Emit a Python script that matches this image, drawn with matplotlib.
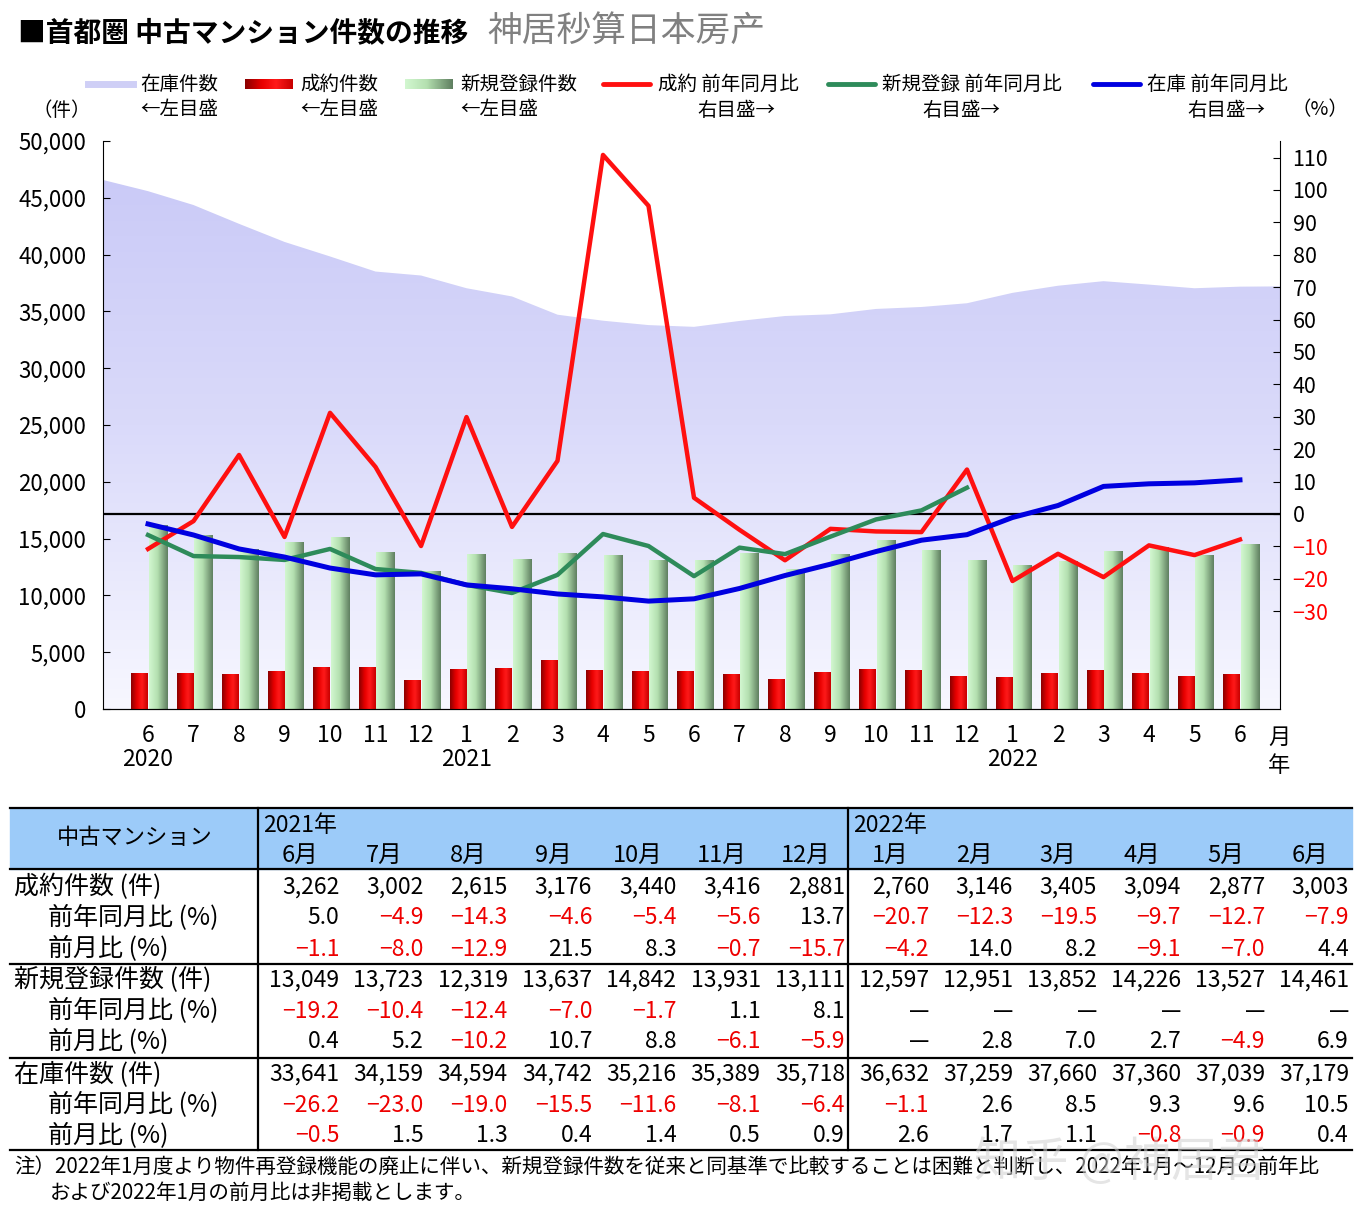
import numpy as np
import matplotlib
matplotlib.use('Agg')
import matplotlib.pyplot as plt
from matplotlib.colors import LinearSegmentedColormap
from matplotlib.lines import Line2D

plt.rcParams['font.family'] = ['Noto Sans CJK JP', 'DejaVu Sans']

# ---- data (2020/6 - 2022/6) ----
months = ['6', '7', '8', '9', '10', '11', '12', '1', '2', '3', '4', '5',
          '6', '7', '8', '9', '10', '11', '12', '1', '2', '3', '4', '5', '6']
years = {0: '2020', 7: '2021', 19: '2022'}

contracts = [3107, 3157, 3051, 3329, 3636, 3619, 2534, 3480, 3587, 4230, 3426, 3296,
             3262, 3002, 2615, 3176, 3440, 3416, 2881, 2760, 3146, 3405, 3094, 2877, 3003]
new_listings = [16150, 15316, 14063, 14664, 15099, 13780, 12129, 13560, 13200, 13730, 13550, 13030,
                13049, 13723, 12319, 13637, 14842, 13931, 13111, 12597, 12951, 13852, 14226, 13527, 14461]
stock = [45584, 44362, 42709, 41115, 39837, 38508, 38160, 37040, 36315, 34710, 34181, 33795,
         33641, 34159, 34594, 34742, 35216, 35389, 35718, 36632, 37259, 37660, 37360, 37039, 37179]
stock_left_edge = 46570   # area continues to the left spine
stock_right_edge = 37200  # and to the right spine

contract_yoy = [-10.8, -2.2, 18.2, -7.1, 31.2, 14.5, -9.9, 29.9, -4.0, 16.4, 110.8, 95.1,
                5.0, -4.9, -14.3, -4.6, -5.4, -5.6, 13.7, -20.7, -12.3, -19.5, -9.7, -12.7, -7.9]
new_yoy = [-6.5, -13.0, -13.3, -14.2, -10.8, -17.0, -18.2, -21.9, -24.4, -18.8, -6.2, -9.9,
           -19.2, -10.4, -12.4, -7.0, -1.7, 1.1, 8.1]
stock_yoy = [-3.1, -6.5, -10.8, -13.3, -16.7, -18.8, -18.5, -21.9, -23.1, -24.7, -25.6, -26.9,
             -26.2, -23.0, -19.0, -15.5, -11.6, -8.1, -6.4, -1.1, 2.6, 8.5, 9.3, 9.6, 10.5]

# table (2021/6 - 2022/6)
table_months = ['6月', '7月', '8月', '9月', '10月', '11月', '12月',
                '1月', '2月', '3月', '4月', '5月', '6月']
contract_mom = [-1.1, -8.0, -12.9, 21.5, 8.3, -0.7, -15.7, -4.2, 14.0, 8.2, -9.1, -7.0, 4.4]
new_mom = [0.4, 5.2, -10.2, 10.7, 8.8, -6.1, -5.9, None, 2.8, 7.0, 2.7, -4.9, 6.9]
stock_mom = [-0.5, 1.5, 1.3, 0.4, 1.4, 0.5, 0.9, 2.6, 1.7, 1.1, -0.8, -0.9, 0.4]
new_yoy_table = new_yoy[12:] + [None] * 6

W, H = 1368, 1212
fig = plt.figure(figsize=(W / 100, H / 100), dpi=100)

# ---- main chart ----
ax = fig.add_axes([103 / W, 1 - 709 / H, (1280 - 103) / W, (709 - 141) / H])
x = np.arange(len(months))
XL = (-0.99, 24.88)

# stock area with vertical gradient
xs = np.concatenate([[XL[0]], x, [XL[1]]])
ys = np.concatenate([[stock_left_edge], stock, [stock_right_edge]])
poly = ax.fill_between(xs, 0, ys, color='none', lw=0)
area_cmap = LinearSegmentedColormap.from_list('area', ['#f7f7ff', '#dadafa', '#c8c8f7'])
grad = np.linspace(0, 1, 256).reshape(-1, 1)
im = ax.imshow(grad, extent=[XL[0], XL[1], 0, 50000], origin='lower', aspect='auto',
               cmap=area_cmap, zorder=1)
im.set_clip_path(poly.get_paths()[0], transform=ax.transData)

# bars with horizontal gradients
red_cmap = LinearSegmentedColormap.from_list('red', [(0, '#8a0000'), (0.35, '#e80000'),
                                                     (0.65, '#ff1a1a'), (1, '#c80000')])
green_cmap = LinearSegmentedColormap.from_list('grn', [(0, '#d2f7d0'), (0.45, '#b4e0b0'),
                                                       (1, '#5f7f60')])
hgrad = np.linspace(0, 1, 64).reshape(1, -1)
for i in range(len(x)):
    ax.imshow(hgrad, extent=[x[i] - 0.37, x[i] - 0.0, 0, contracts[i]], aspect='auto',
              cmap=red_cmap, zorder=3, interpolation='bicubic')
    ax.imshow(hgrad, extent=[x[i] + 0.02, x[i] + 0.42, 0, new_listings[i]], aspect='auto',
              cmap=green_cmap, zorder=2, interpolation='bicubic')

ax.set_xlim(*XL)
ax.set_ylim(0, 50000)
ax.set_yticks(np.arange(0, 50001, 5000))
ax.set_yticklabels([f'{v:,}' for v in range(0, 50001, 5000)], fontsize=16)
ax.tick_params(axis='y', direction='in', length=5, pad=12)
ax.set_xticks(x)
ax.set_xticklabels([m + ('\n' + years[i] if i in years else '') for i, m in enumerate(months)],
                   fontsize=16.5, linespacing=1.05)
ax.tick_params(axis='x', length=0, pad=11)
ax.spines['top'].set_visible(False)
ax.spines['right'].set_visible(False)

ax2 = ax.twinx()
ax2.set_ylim(-60.2, 115.1)
ax2.set_xlim(*XL)
ax2.axhline(0, color='black', lw=1.6, zorder=1)
ax2.plot(x, contract_yoy, color='#ff1010', lw=3.2, zorder=3)
ax2.plot(x[:len(new_yoy)], new_yoy, color='#2e8b5a', lw=3.2, zorder=3)
ax2.plot(x, stock_yoy, color='#0000e0', lw=3.6, zorder=4)
rt = np.arange(-30, 111, 10)
ax2.set_yticks(rt)
ax2.set_yticklabels([f'{v}' if v >= 0 else f'−{-v}' for v in rt], fontsize=15.5)
for lab, v in zip(ax2.get_yticklabels(), rt):
    if v < 0:
        lab.set_color('#ff0000')
ax2.tick_params(axis='y', direction='in', length=5, pad=9)
ax2.spines['top'].set_visible(False)
ax2.spines['left'].set_visible(False)

# ---- overlay in pixel coords: title, legend, table, notes ----
ov = fig.add_axes([0, 0, 1, 1], zorder=5)
ov.set_xlim(0, W)
ov.set_ylim(H, 0)
ov.axis('off')

ov.text(18, 33, '■首都圏 中古マンション件数の推移', fontsize=20, fontweight='bold', va='center')
ov.text(487, 31, '神居秒算日本房产', fontsize=25, color='#808080', va='center')

ov.text(1268, 737, '月', fontsize=16, va='center', ha='left')
ov.text(1268, 765, '年', fontsize=16, va='center', ha='left')
ov.text(62, 110, '（件）', fontsize=14, va='center', ha='center')
ov.text(1320, 110, '（%）', fontsize=14, va='center', ha='center')

# legend
ly1, ly2 = 84, 110
ov.add_line(Line2D([88, 133], [ly1, ly1], color='#cfcff6', lw=5))
ov.imshow(hgrad, extent=[245, 293, ly1 + 5, ly1 - 5], aspect='auto', cmap=red_cmap)
ov.imshow(hgrad, extent=[405, 453, ly1 + 5, ly1 - 5], aspect='auto', cmap=green_cmap)
ov.add_line(Line2D([603, 650], [ly1, ly1], color='#ff1010', lw=3.5, solid_capstyle='round'))
ov.add_line(Line2D([828, 875], [ly1, ly1], color='#2e8b5a', lw=3.5, solid_capstyle='round'))
ov.add_line(Line2D([1093, 1140], [ly1, ly1], color='#0000e0', lw=3.5, solid_capstyle='round'))
legend_items = [(140, '在庫件数', 140, '←左目盛'),
                (300, '成約件数', 300, '←左目盛'),
                (460, '新規登録件数', 460, '←左目盛'),
                (658, '成約 前年同月比', 697, '右目盛→'),
                (882, '新規登録 前年同月比', 922, '右目盛→'),
                (1147, '在庫 前年同月比', 1187, '右目盛→')]
for x1, t1, x2, t2 in legend_items:
    ov.text(x1, ly1, t1, fontsize=14, va='center')
    ov.text(x2, ly2, t2, fontsize=14, va='center')
ov.set_xlim(0, W)
ov.set_ylim(H, 0)

# table
T_L, T_SPLIT1, T_SPLIT2, T_R = 10, 258, 848, 1352
col_w1 = (T_SPLIT2 - T_SPLIT1) / 7
col_w2 = (T_R - T_SPLIT2) / 6
col_right = [T_SPLIT1 + col_w1 * (i + 1) for i in range(7)] + \
            [T_SPLIT2 + col_w2 * (i + 1) for i in range(6)]
col_left = [T_SPLIT1 + col_w1 * i for i in range(7)] + [T_SPLIT2 + col_w2 * i for i in range(6)]

ov.fill_between([T_L, T_R], 808, 869, color='#9ccbf9', zorder=0)
ov.text(135, 838, '中古マンション', fontsize=16, ha='center', va='center')
ov.text(T_SPLIT1 + 5, 825, '2021年', fontsize=16.5, va='center')
ov.text(T_SPLIT2 + 5, 825, '2022年', fontsize=16.5, va='center')
for l, r, m in zip(col_left, col_right, table_months):
    ov.text((l + r) / 2, 855, m, fontsize=17, ha='center', va='center')


def fmt(v, kind):
    if v is None:
        return '—', 'black'
    if kind == 'int':
        return f'{v:,}', 'black'
    s = f'{abs(v):.1f}'
    return ('−' + s, '#ee0000') if v < 0 else (s, 'black')


rows = [('成約件数 (件)', 14, contracts[12:], 'int'),
        ('前年同月比 (%)', 48, contract_yoy[12:], 'pct'),
        ('前月比 (%)', 48, contract_mom, 'pct'),
        ('新規登録件数 (件)', 14, new_listings[12:], 'int'),
        ('前年同月比 (%)', 48, new_yoy_table, 'pct'),
        ('前月比 (%)', 48, new_mom, 'pct'),
        ('在庫件数 (件)', 14, stock[12:], 'int'),
        ('前年同月比 (%)', 48, stock_yoy[12:], 'pct'),
        ('前月比 (%)', 48, stock_mom, 'pct')]
row_y = [887, 918, 949, 980, 1011, 1042, 1074, 1105, 1136]
for (label, lx, vals, kind), yy in zip(rows, row_y):
    ov.text(lx, yy, label, fontsize=18, va='center')
    for r, v in zip(col_right, vals):
        s, c = fmt(v, kind)
        ov.text(r - 3, yy, s, fontsize=16.5, va='center', ha='right', color=c)

for yy in [808, 869, 964, 1058, 1150]:
    ov.add_line(Line2D([T_L, T_R], [yy, yy], color='black', lw=1.6))
for xx in [T_SPLIT1, T_SPLIT2]:
    ov.add_line(Line2D([xx, xx], [808, 1150], color='black', lw=1.6))

ov.text(14, 1167, '注）2022年1月度より物件再登録機能の廃止に伴い、新規登録件数を従来と同基準で比較することは困難と判断し、2022年1月～12月の前年比',
        fontsize=14.8, va='center')
ov.text(50, 1193, 'および2022年1月の前月比は非掲載とします。', fontsize=14.8, va='center')
ov.text(1120, 1163, '知乎 @神居君', fontsize=34, color='#d0d0d0', alpha=0.55, ha='center', va='center')

fig.savefig('out.png', dpi=100)
